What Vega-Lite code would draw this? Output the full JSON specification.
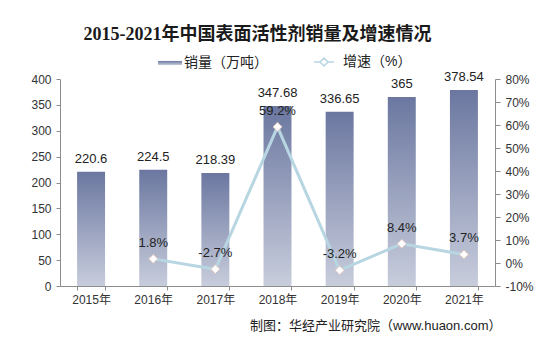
{
  "$schema": "https://vega.github.io/schema/vega-lite/v6.json",
  "width": 435,
  "height": 207,
  "autosize": {"type": "none"},
  "padding": {"left": 60, "top": 79, "right": 56, "bottom": 76},
  "background": "white",
  "title": {
    "text": "2015-2021年中国表面活性剂销量及增速情况",
    "font": "Liberation Serif, Noto Sans CJK SC",
    "fontSize": 18,
    "fontWeight": "bold",
    "color": "#1a1a1a",
    "anchor": "middle",
    "dx": -20,
    "offset": 7
  },
  "data": {
    "values": [
      {"year": "2015年", "sales": 220.6, "growth": null, "glabel": ""},
      {"year": "2016年", "sales": 224.5, "growth": 1.8, "glabel": "1.8%"},
      {"year": "2017年", "sales": 218.39, "growth": -2.7, "glabel": "-2.7%"},
      {"year": "2018年", "sales": 347.68, "growth": 59.2, "glabel": "59.2%"},
      {"year": "2019年", "sales": 336.65, "growth": -3.2, "glabel": "-3.2%"},
      {"year": "2020年", "sales": 365, "growth": 8.4, "glabel": "8.4%"},
      {"year": "2021年", "sales": 378.54, "growth": 3.7, "glabel": "3.7%"}
    ]
  },
  "encoding": {
    "x": {
      "field": "year",
      "type": "ordinal",
      "sort": null,
      "scale": {"paddingInner": 0.55, "paddingOuter": 0.275},
      "axis": {
        "title": "制图：华经产业研究院（www.huaon.com）",
        "titleAnchor": "end",
        "titleFontSize": 13,
        "titleFontWeight": "normal",
        "titleColor": "#222222",
        "titlePadding": 14,
        "titleX": 441,
        "titleAlign": "right",
        "labelAngle": 0,
        "labelFontSize": 12,
        "labelColor": "#333333",
        "labelPadding": 4,
        "tickBand": "extent",
        "tickSize": 4,
        "tickColor": "#8c8c8c",
        "domainColor": "#8c8c8c",
        "grid": false
      }
    }
  },
  "layer": [
    {
      "encoding": {
        "y": {
          "field": "sales",
          "type": "quantitative",
          "scale": {"domain": [0, 400], "nice": false},
          "axis": {
            "title": null,
            "values": [0, 50, 100, 150, 200, 250, 300, 350, 400],
            "labelFontSize": 12,
            "labelColor": "#333333",
            "labelPadding": 5,
            "tickSize": 4,
            "tickColor": "#8c8c8c",
            "domainColor": "#8c8c8c",
            "grid": false,
            "orient": "left"
          }
        }
      },
      "layer": [
        {
          "mark": {
            "type": "bar",
            "color": {"gradient": "linear", "x1": 0, "y1": 0, "x2": 0, "y2": 1,
              "stops": [{"offset": 0, "color": "#6b77a0"}, {"offset": 1, "color": "#c8cddc"}]}
          },
          "encoding": {
            "opacity": {
              "datum": "销量（万吨）",
              "type": "nominal",
              "scale": {"range": [1]},
              "legend": {
                "title": null,
                "orient": "none",
                "legendX": 98,
                "legendY": -28,
                "symbolType": "M-1,-0.17H1V0.17H-1Z",
                "symbolSize": 576,
                "symbolFillColor": "#7d88ab",
                "symbolStrokeWidth": 0,
                "labelFontSize": 14,
                "labelColor": "#222222",
                "labelOffset": 2
              }
            }
          }
        },
        {
          "mark": {"type": "text", "baseline": "bottom", "dy": -6, "fontSize": 13, "color": "#222222"},
          "encoding": {"text": {"field": "sales", "type": "nominal"}}
        }
      ]
    },
    {
      "transform": [{"filter": "datum.growth != null"}],
      "encoding": {
        "y": {
          "field": "growth",
          "type": "quantitative",
          "scale": {"domain": [-10, 80], "nice": false},
          "axis": {
            "title": null,
            "orient": "right",
            "values": [-10, 0, 10, 20, 30, 40, 50, 60, 70, 80],
            "labelExpr": "datum.value + '%'",
            "labelFontSize": 12,
            "labelColor": "#333333",
            "labelPadding": 5,
            "tickSize": 5,
            "tickColor": "#8c8c8c",
            "domainColor": "#8c8c8c",
            "grid": false
          }
        }
      },
      "layer": [
        {
          "mark": {"type": "line", "strokeWidth": 3},
          "encoding": {
            "stroke": {
              "datum": "增速（%）",
              "type": "nominal",
              "scale": {"range": ["#b7d6e2"]},
              "legend": {
                "title": null,
                "orient": "none",
                "legendX": 253,
                "legendY": -28,
                "symbolType": "M-1,0H-0.4M0.4,0H1M0,-0.4L0.4,0L0,0.4L-0.4,0Z",
                "symbolSize": 400,
                "symbolStrokeWidth": 1.5,
                "symbolFillColor": "white",
                "labelFontSize": 14,
                "labelColor": "#222222",
                "labelOffset": 8
              }
            }
          }
        },
        {
          "mark": {"type": "point", "shape": "diamond", "filled": true, "fill": "white", "stroke": "#e2c6c0", "strokeWidth": 1, "size": 80, "opacity": 1}
        },
        {
          "mark": {"type": "text", "baseline": "bottom", "dy": -9, "fontSize": 13, "color": "#222222"},
          "encoding": {"text": {"field": "glabel", "type": "nominal"}}
        }
      ]
    }
  ],
  "resolve": {"scale": {"y": "independent", "opacity": "independent", "stroke": "independent"}},
  "config": {
    "font": "Liberation Sans, Noto Sans CJK SC",
    "view": {"stroke": null}
  }
}
